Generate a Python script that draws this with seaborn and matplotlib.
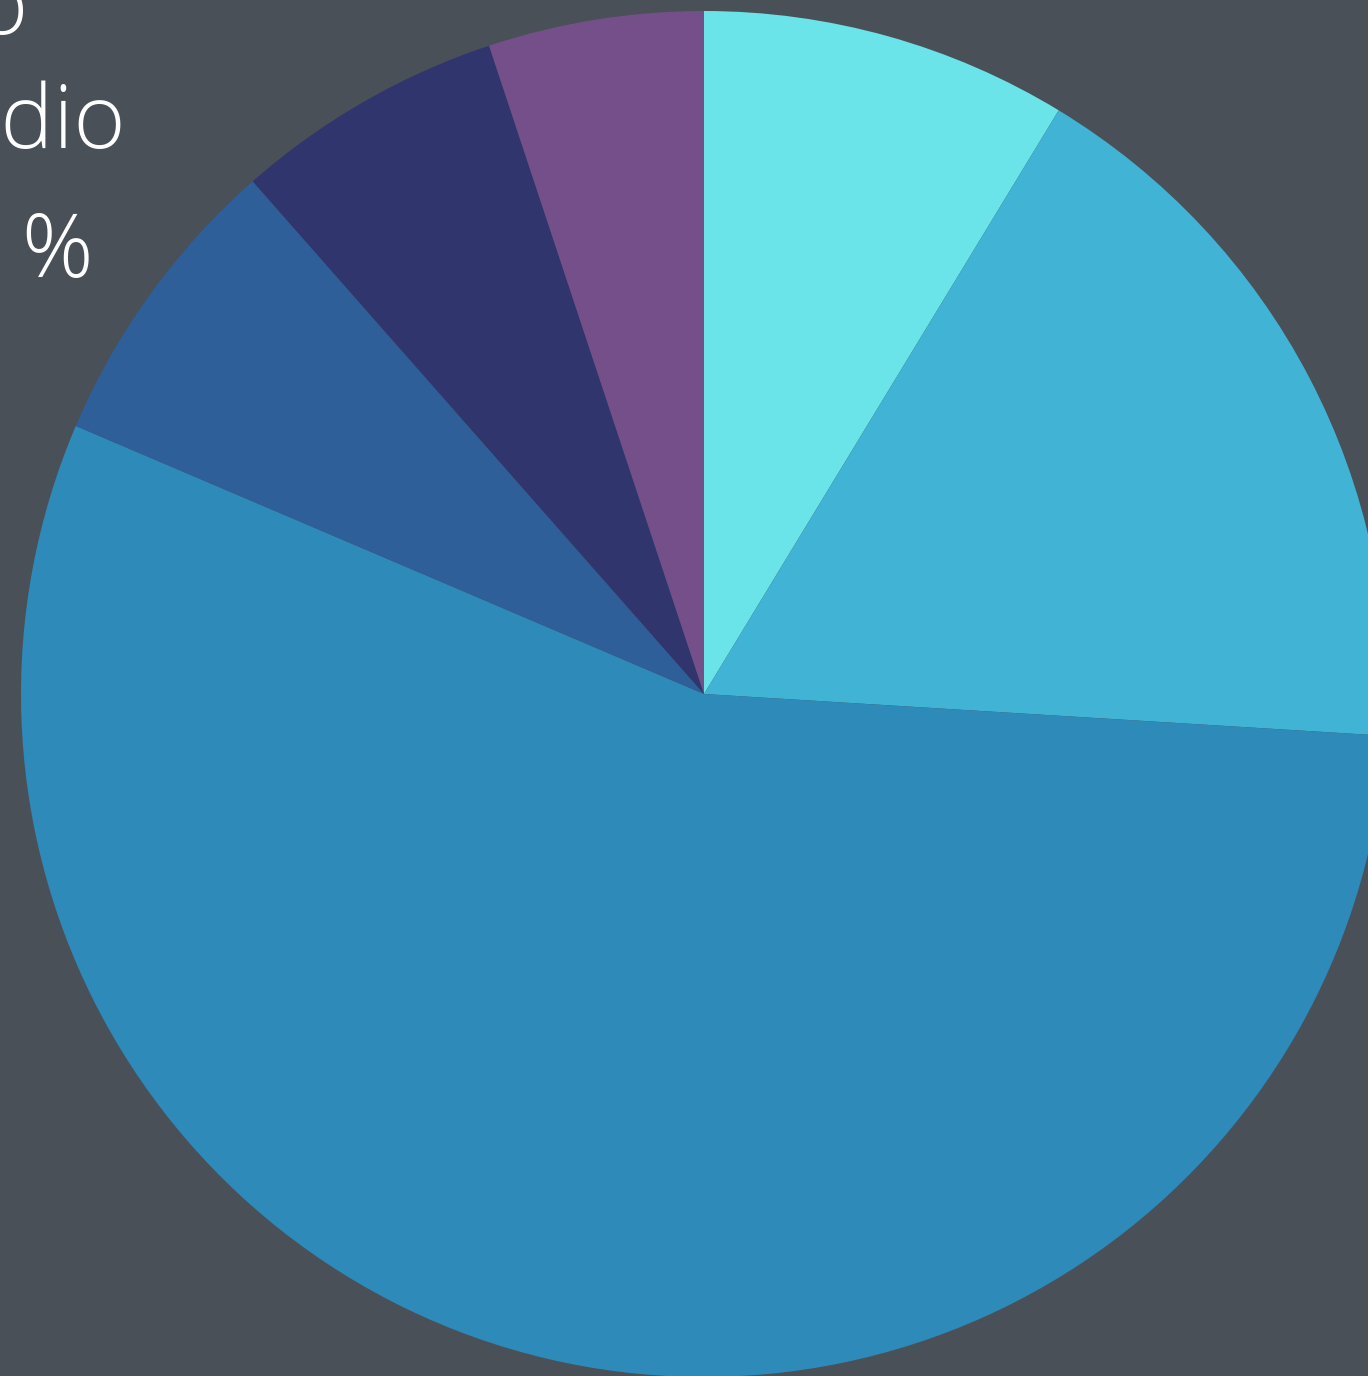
import matplotlib
matplotlib.use("Agg")
import matplotlib.pyplot as plt
import seaborn as sns

# slice shares (%), clockwise from 12 o'clock
shares = [8.7, 17.3, 55.5, 7.1, 6.4, 5.1]
colors = ["#6ae4e8", "#41b3d5", "#2d8ab9", "#2e5f98", "#31356e", "#744f89"]

# labels drawn outside the pie (mostly cropped off the left edge)
label_top = "Bajo"
label_mid = "Medio"
label_pct = "5 %"

bg = "#4a5058"

sns.set_style("dark", {"axes.facecolor": bg, "figure.facecolor": bg})
plt.rcParams["font.family"] = ["Open Sans", "DejaVu Sans"]

W, H = 1368, 1376
fig = plt.figure(figsize=(W / 100, H / 100), dpi=100)
fig.patch.set_facecolor(bg)

cx, cy, r = 704, 694, 683
ax = fig.add_axes([(cx - r) / W, (H - cy - r) / H, 2 * r / W, 2 * r / H])
ax.pie(shares, colors=sns.color_palette(colors), startangle=90,
       counterclock=False, radius=1,
       wedgeprops=dict(linewidth=0, antialiased=True))
ax.set_xlim(-1, 1)
ax.set_ylim(-1, 1)
ax.set_aspect("auto")
ax.axis("off")

txt = dict(color="white", fontweight=300, fontsize=64, ha="right")
fig.text(28 / W, 1 - 34 / H, label_top, va="baseline", **txt)
fig.text(126 / W, 1 - 148 / H, label_mid, va="baseline", **txt)
fig.text(93 / W, 1 - 277 / H, label_pct, va="baseline", **txt)

fig.savefig("out.png", dpi=100, facecolor=bg)
